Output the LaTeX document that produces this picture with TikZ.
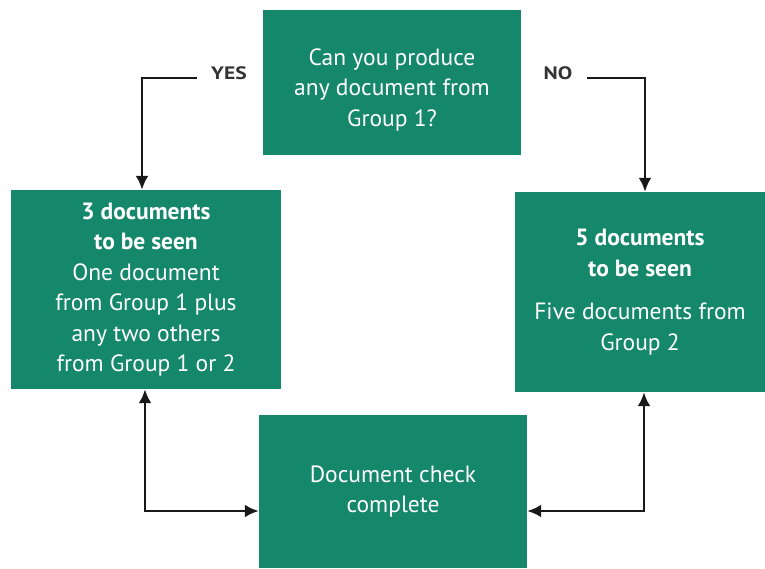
\documentclass[tikz,border=0pt]{standalone}
\usepackage{fontspec}
\setmainfont{PT Sans}
\usetikzlibrary{arrows.meta}
\definecolor{boxgreen}{HTML}{15876A}
\tikzset{
  gbox/.style={fill=boxgreen, draw=none, text=white, align=center, font=\fontsize{23.5}{30.5}\selectfont, inner sep=0pt},
  gtext/.style={text=white, align=center, font=\fontsize{23.5}{30.5}\selectfont, inner sep=0pt},
  arr/.style={draw=black!90, line width=2.8pt, -{Latex[length=14pt,width=13pt]}},
  barr/.style={draw=black!90, line width=2.8pt, {Latex[length=14pt,width=13pt]}-{Latex[length=14pt,width=13pt]}},
  lbl/.style={font=\bfseries\fontsize{18}{20}\selectfont\addfontfeature{FakeStretch=1.2}, text=black!80, inner sep=0pt}
}
\begin{document}
\begin{tikzpicture}[x=1pt,y=-1pt]
\useasboundingbox (0,0) rectangle (765,568);
\node[gbox, minimum width=258pt, minimum height=145pt] (top) at (392,82.5) {};
\node[gtext] (toptext) at ([yshift=-7pt]top.center)
  {Can you produce\\any document from\\Group 1?};
\node[gbox, minimum width=270pt, minimum height=199pt] (left) at (146,289.5)
  {\textbf{3 documents}\\\textbf{to be seen}\\One document\\from Group 1 plus\\any two others\\from Group 1 or 2};
\node[gbox, minimum width=250pt, minimum height=200pt] (right) at (640,292)
  {\textbf{5 documents}\\\textbf{to be seen}\\[13pt]Five documents from\\Group 2};
\node[gbox, minimum width=268pt, minimum height=153pt] (bottom) at (393,491.5)
  {Document check\\complete};
\node[lbl] (yes) at (229,73) {YES};
\node[lbl] (no) at (558,73) {NO};
\coordinate (yesend) at (197,78);
\coordinate (noend) at (587,78);
\draw[arr] (yesend) -| ([xshift=-4pt]left.north);
\draw[arr] (noend) -| ([xshift=5pt]right.north);
\draw[barr] ([xshift=-1pt]left.south) |- ([yshift=-19.5pt]bottom.west);
\draw[barr] ([xshift=4pt]right.south) |- ([yshift=-19.5pt]bottom.east);
\end{tikzpicture}
\end{document}
